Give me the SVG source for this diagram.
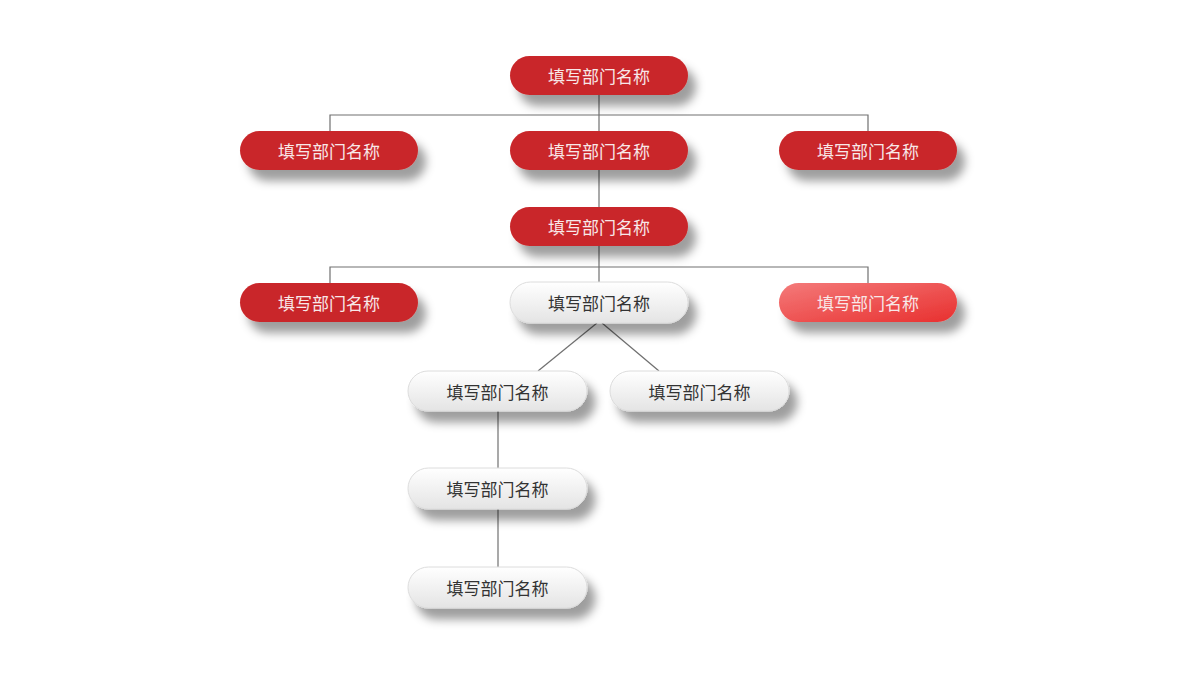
<svg xmlns="http://www.w3.org/2000/svg" width="1200" height="675" viewBox="0 0 1200 675">
<defs>
<filter id="sh" x="-20%" y="-40%" width="150%" height="220%">
<feDropShadow dx="8" dy="11" stdDeviation="5" flood-color="#000" flood-opacity="0.38"/>
</filter>
<linearGradient id="gGray" x1="0" y1="0" x2="0" y2="1">
<stop offset="0" stop-color="#ffffff"/>
<stop offset="1" stop-color="#e4e4e4"/>
</linearGradient>
<linearGradient id="gPink" x1="0" y1="0" x2="1" y2="1">
<stop offset="0" stop-color="#f47a7a"/>
<stop offset="1" stop-color="#e8302f"/>
</linearGradient>
</defs>
<style>
.red{fill:#c9282a;filter:url(#sh)}
.pink{fill:url(#gPink);filter:url(#sh)}
.gray{fill:url(#gGray);stroke:#dcdcdc;stroke-width:1;filter:url(#sh)}
text{font-family:"Noto Sans CJK SC","Noto Sans",sans-serif;font-size:17px;text-anchor:middle;dominant-baseline:central}
.tw{fill:#f8e8e8}
.tg{fill:#333333}
.ln{stroke:#707070;stroke-width:1.2;fill:none}
</style>
<rect width="1200" height="675" fill="#ffffff"/>
<g id="connectors">
<line class="ln" x1="599" y1="95" x2="599" y2="131"/>
<polyline class="ln" points="330,131 330,115 868,115 868,131"/>
<line class="ln" x1="599" y1="170" x2="599" y2="207"/>
<line class="ln" x1="599" y1="246" x2="599" y2="283"/>
<polyline class="ln" points="330,283 330,267 868,267 868,283"/>
<line class="ln" x1="597" y1="323" x2="538" y2="371"/>
<line class="ln" x1="602" y1="323" x2="659" y2="371"/>
<line class="ln" x1="498" y1="411" x2="498" y2="468"/>
<line class="ln" x1="498" y1="509" x2="498" y2="567"/>
</g>
<g id="n1"><rect class="red" x="510" y="56" width="178" height="39" rx="19.5"/><text class="tw" x="599" y="75.5">填写部门名称</text></g>
<g id="n2"><rect class="red" x="240" y="131" width="178" height="39" rx="19.5"/><text class="tw" x="329" y="150.5">填写部门名称</text></g>
<g id="n3"><rect class="red" x="510" y="131" width="178" height="39" rx="19.5"/><text class="tw" x="599" y="150.5">填写部门名称</text></g>
<g id="n4"><rect class="red" x="779" y="131" width="178" height="39" rx="19.5"/><text class="tw" x="868" y="150.5">填写部门名称</text></g>
<g id="n5"><rect class="red" x="510" y="207" width="178" height="39" rx="19.5"/><text class="tw" x="599" y="226.5">填写部门名称</text></g>
<g id="n6"><rect class="red" x="240" y="283" width="178" height="39" rx="19.5"/><text class="tw" x="329" y="302.5">填写部门名称</text></g>
<g id="n7"><rect class="gray" x="510" y="282" width="178" height="41" rx="20.5"/><text class="tg" x="599" y="302.5">填写部门名称</text></g>
<g id="n8"><rect class="pink" x="779" y="283" width="178" height="39" rx="19.5"/><text class="tw" x="868" y="302.5">填写部门名称</text></g>
<g id="n9"><rect class="gray" x="408" y="371" width="179" height="40" rx="20"/><text class="tg" x="497.5" y="391">填写部门名称</text></g>
<g id="n10"><rect class="gray" x="610" y="371" width="179" height="40" rx="20"/><text class="tg" x="699.5" y="391">填写部门名称</text></g>
<g id="n11"><rect class="gray" x="408" y="468" width="179" height="41" rx="20.5"/><text class="tg" x="497.5" y="488.5">填写部门名称</text></g>
<g id="n12"><rect class="gray" x="408" y="567" width="179" height="41" rx="20.5"/><text class="tg" x="497.5" y="587.5">填写部门名称</text></g>
</svg>
